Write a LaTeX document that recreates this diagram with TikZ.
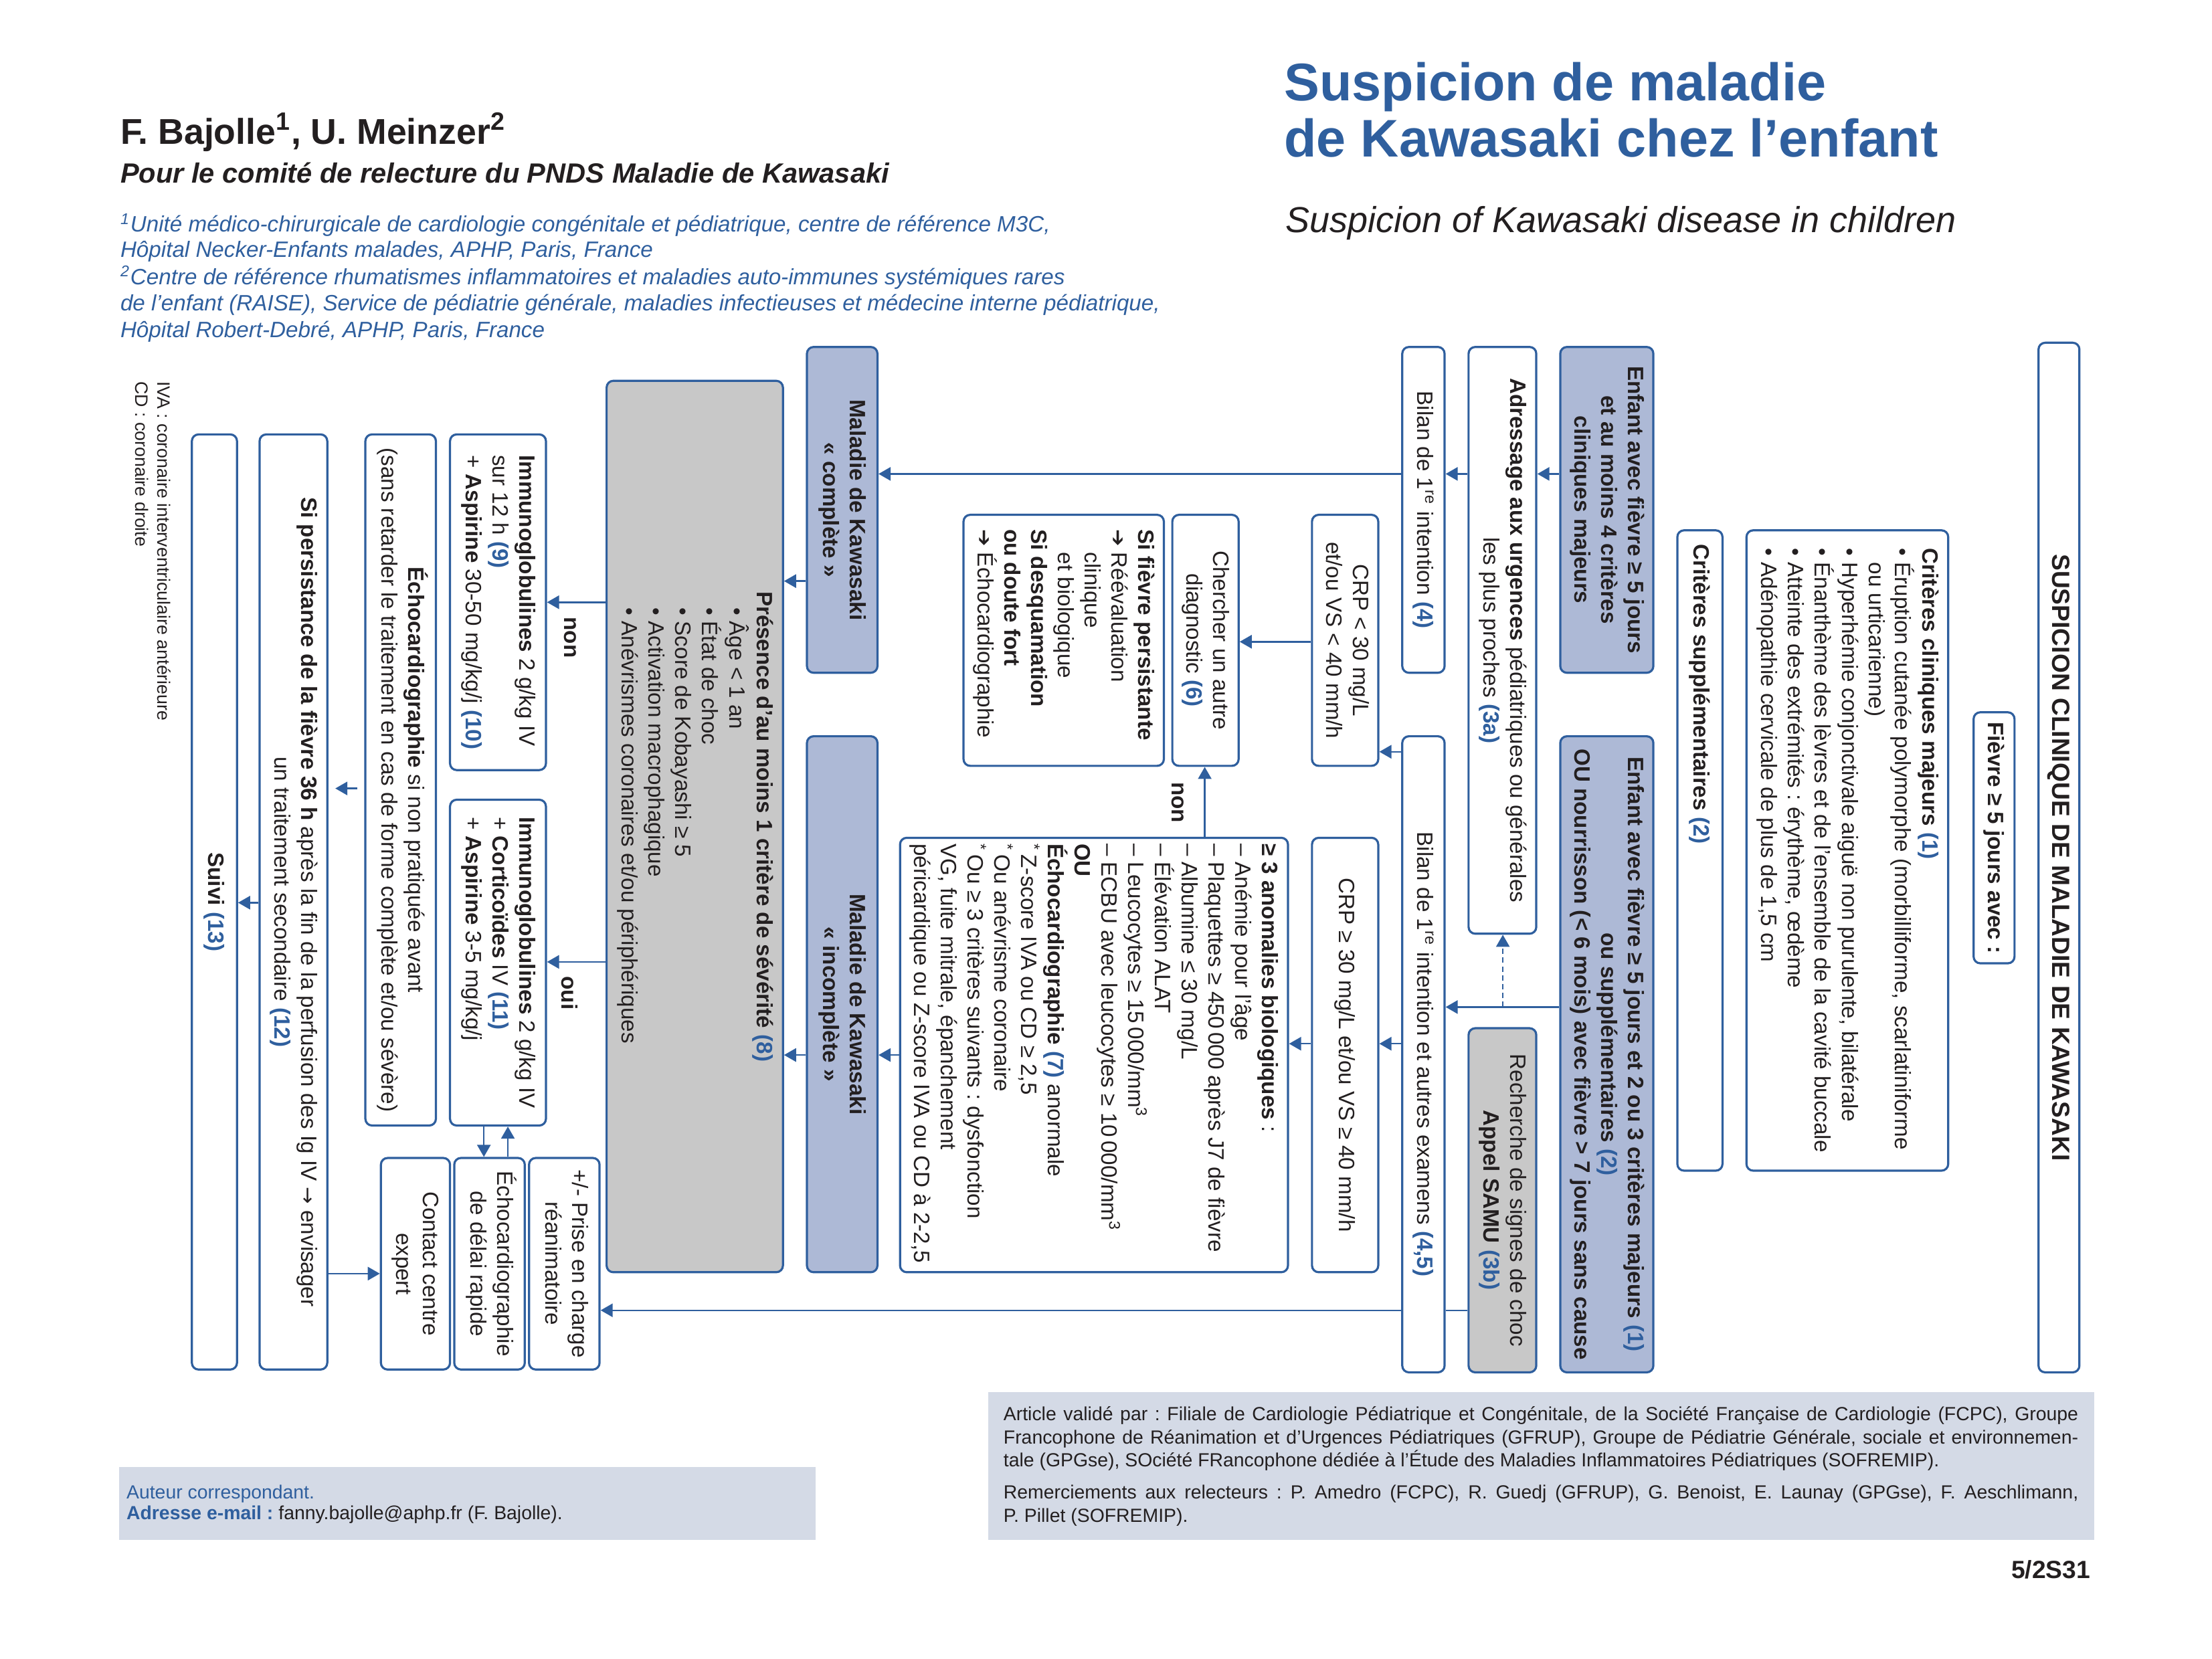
\documentclass[tikz,border=0pt]{standalone}
\usepackage{fontspec}
\setmainfont{Liberation Sans}
\newfontfamily\djv{DejaVu Sans}
\usepackage{graphicx}
\usetikzlibrary{arrows.meta}
\frenchspacing
\definecolor{kblue}{RGB}{47,95,158}
\definecolor{kfill}{RGB}{173,185,214}
\definecolor{kgrey}{RGB}{200,200,200}
\definecolor{kfoot}{RGB}{212,218,230}
\definecolor{ktext}{RGB}{35,31,32}
\newlength\ux
\setlength\ux{0.52711pt}
\newcommand\rf[1]{\textcolor{kblue}{\textbf{(#1)}}}
\newcommand\rot[1]{\rotatebox{-90}{#1}}
\newcommand\ctab[1]{\begin{tabular}{@{}c@{}}#1\end{tabular}}
\newcommand\ltab[1]{\begin{tabular}{@{}l@{}}#1\end{tabular}}
\newcommand\kmini[2]{\begin{minipage}{#1}\raggedright #2\end{minipage}}
\newcommand\harr{{\djv\fontsize{7.6}{10}\selectfont ➔}}
\newcommand\kbox[7]{\node[#2, minimum width={(#5-#3)*\ux}, minimum height={(#6-#4)*\ux}] (#1) at ({(#3+#5)/2},{(#4+#6)/2}) {#7};}
\begin{document}
\begin{tikzpicture}[x=0.52711pt, y=-0.52711pt,
  kb/.style={draw=kblue, line width=0.8pt, rounded corners=2.5pt, fill=white, inner sep=0pt, text=ktext, font=\fontsize{8.3}{10}\selectfont},
  kbf/.style={kb, fill=kfill},
  kbg/.style={kb, fill=kgrey},
  ar/.style={draw=kblue, line width=0.6pt, -{Triangle[length=4.5pt,width=5pt]}},
  ln/.style={draw=kblue, line width=0.6pt},
  lbl/.style={inner sep=0pt, text=ktext, font=\fontsize{8.3}{10}\selectfont\bfseries, rotate=-90},
  hd/.style={inner sep=0pt, anchor=base west, text=ktext}]
\useasboundingbox (0,0) rectangle (1568,1176);

% ---------- header ----------
\node[hd, font=\fontsize{19.8}{21}\selectfont\bfseries, text=kblue] (title1) at (910,71.5) {Suspicion de maladie};
\node[hd, font=\fontsize{19.8}{21}\selectfont\bfseries, text=kblue] (title2) at (910,111) {de Kawasaki chez l’enfant};
\node[hd, font=\fontsize{13.5}{15}\selectfont\itshape] (subtitle) at (911,165) {Suspicion of Kawasaki disease in children};
\node[hd, font=\fontsize{13.4}{15}\selectfont\bfseries] (auth) at (85,102) {F. Bajolle\textsuperscript{1}, U. Meinzer\textsuperscript{2}};
\node[hd, font=\fontsize{10.4}{12}\selectfont\bfseries\itshape] (comite) at (85,129.6) {Pour le comité de relecture du PNDS Maladie de Kawasaki};
\begin{scope}[every node/.style={hd, font=\fontsize{8.3}{10}\selectfont\itshape, text=kblue}]
\node (af1) at (85,164.4) {\textsuperscript{1}Unité médico-chirurgicale de cardiologie congénitale et pédiatrique, centre de référence M3C,};
\node (af2) at (85,182.6) {Hôpital Necker-Enfants malades, APHP, Paris, France};
\node (af3) at (85,201.6) {\textsuperscript{2}Centre de référence rhumatismes inflammatoires et maladies auto-immunes systémiques rares};
\node (af4) at (85,220.5) {de l’enfant (RAISE), Service de pédiatrie générale, maladies infectieuses et médecine interne pédiatrique,};
\node (af5) at (85,239.5) {Hôpital Robert-Debré, APHP, Paris, France};
\end{scope}

% ---------- boxes ----------
\kbox{b1}{kb, font=\fontsize{9.3}{11}\selectfont\bfseries}{1445}{243}{1474}{973}{\rot{SUSPICION CLINIQUE DE MALADIE DE KAWASAKI}}
\kbox{b2}{kb, font=\fontsize{8.3}{10}\selectfont\bfseries}{1399}{505}{1428}{683}{\rot{Fièvre ≥ 5 jours avec :}}
\kbox{b3}{kb}{1238}{376}{1381}{830}{\rot{\ltab{\textbf{Critères cliniques majeurs} \rf{1}\\
• Éruption cutanée polymorphe (morbilliforme, scarlatiniforme\\
\hphantom{• }ou urticarienne)\\
• Hyperhémie conjonctivale aiguë non purulente, bilatérale\\
• Énanthème des lèvres et de l’ensemble de la cavité buccale\\
• Atteinte des extrémités : érythème, œdème\\
• Adénopathie cervicale de plus de 1,5 cm}}}
\kbox{b4}{kb}{1189}{376}{1221}{830}{\rot{\kmini{229pt}{\textbf{Critères supplémentaires} \rf{2}}}}
\kbox{b5}{kbf, font=\fontsize{8.3}{10}\selectfont\bfseries}{1106}{246}{1172}{477}{\rot{\ctab{Enfant avec fièvre ≥ 5 jours\\et au moins 4 critères\\cliniques majeurs}}}
\kbox{b6}{kbf, font=\fontsize{8.3}{10}\selectfont\bfseries}{1106}{522}{1172}{973}{\rot{\ctab{Enfant avec fièvre ≥ 5 jours et 2 ou 3 critères majeurs \rf{1}\\ou supplémentaires \rf{2}\\OU nourrisson (< 6 mois) avec fièvre > 7 jours sans cause}}}
\kbox{b7}{kb}{1041}{246}{1089}{662}{\rot{\ctab{\textbf{Adressage aux urgences} pédiatriques ou générales\\les plus proches \rf{3a}}}}
\kbox{b8}{kbg}{1041}{729}{1089}{973}{\rot{\ctab{Recherche de signes de choc\\\textbf{Appel SAMU} \rf{3b}}}}
\kbox{b9}{kb}{994}{246}{1024}{477}{\rot{Bilan de 1\textsuperscript{re} intention \rf{4}}}
\kbox{b10}{kb}{994}{522}{1024}{973}{\rot{Bilan de 1\textsuperscript{re} intention et autres examens \rf{4,5}}}
\kbox{b11}{kb}{930}{365}{977}{543}{\rot{\ctab{CRP < 30 mg/L\\et/ou VS < 40 mm/h}}}
\kbox{b12}{kb}{930}{594}{977}{902}{\rot{CRP ≥ 30 mg/L et/ou VS ≥ 40 mm/h}}
\kbox{b13}{kb}{831}{365}{878}{543}{\rot{\ctab{Chercher un autre\\diagnostic \rf{6}}}}
\kbox{b14}{kb}{683}{365}{825}{543}{\rot{\kmini{83pt}{\textbf{Si fièvre persistante}\\
\harr\ Réévaluation\\
\hphantom{\harr\ }clinique\\
\hphantom{\harr\ }et biologique\\
\textbf{Si desquamation}\\
\textbf{ou doute fort}\\
\harr\ Échocardiographie}}}
\kbox{b15}{kb}{638}{594}{913}{902}{\rot{\kmini{158pt}{\textbf{≥ 3 anomalies biologiques} :\\
– Anémie pour l’âge\\
– Plaquettes ≥ 450\,000 après J7 de fièvre\\
– Albumine ≤ 30 mg/L\\
– Élévation ALAT\\
– Leucocytes ≥ 15\,000/mm\textsuperscript{3}\\
– ECBU avec leucocytes ≥ 10\,000/mm\textsuperscript{3}\\
\textbf{OU}\\
\textbf{Échocardiographie} \rf{7} anormale\\
\textsuperscript{*}\,Z-score IVA ou CD ≥ 2,5\\
\textsuperscript{*}\,Ou anévrisme coronaire\\
\textsuperscript{*}\,Ou ≥ 3 critères suivants : dysfonction\\
VG, fuite mitrale, épanchement\\
péricardique ou Z-score IVA ou CD à 2-2,5}}}
\kbox{b16}{kbf, font=\fontsize{8.3}{10}\selectfont\bfseries}{572}{246}{622}{477}{\rot{\ctab{Maladie de Kawasaki\\« complète »}}}
\kbox{b17}{kbf, font=\fontsize{8.3}{10}\selectfont\bfseries}{572}{522}{622}{902}{\rot{\ctab{Maladie de Kawasaki\\« incomplète »}}}
\kbox{b18}{kbg}{430}{270}{555}{902}{\rot{\ltab{\textbf{Présence d’au moins 1 critère de sévérité} \rf{8}\\
\hspace*{6pt}• Âge < 1 an\\
\hspace*{6pt}• État de choc\\
\hspace*{6pt}• Score de Kobayashi ≥ 5\\
\hspace*{6pt}• Activation macrophagique\\
\hspace*{6pt}• Anévrismes coronaires et/ou périphériques}}}
\kbox{b19}{kb}{319}{308}{387}{546}{\rot{\ltab{\textbf{Immunoglobulines} 2 g/kg IV\\
sur 12 h \rf{9}\\
+ \textbf{Aspirine} 30-50 mg/kg/j \rf{10}}}}
\kbox{b20}{kb}{319}{567}{387}{798}{\rot{\ltab{\textbf{Immunoglobulines} 2 g/kg IV\\
+ \textbf{Corticoïdes} IV \rf{11}\\
+ \textbf{Aspirine} 3-5 mg/kg/j}}}
\kbox{b21}{kb}{259}{308}{309}{798}{\rot{\ctab{\textbf{Échocardiographie} si non pratiquée avant\\(sans retarder le traitement en cas de forme complète et/ou sévère)}}}
\kbox{b22}{kb}{184}{308}{232}{971}{\rot{\ctab{\textbf{Si persistance de la fièvre 36 h} après la fin de la perfusion des Ig IV {\djv\fontsize{7.6}{10}\selectfont →} envisager\\un traitement secondaire \rf{12}}}}
\kbox{b23}{kb}{136}{308}{168}{971}{\rot{\textbf{Suivi} \rf{13}}}
\kbox{b24}{kb}{375}{821}{425}{971}{\rot{\ctab{+/- Prise en charge\\réanimatoire}}}
\kbox{b25}{kb}{322}{821}{372}{971}{\rot{\ctab{Échocardiographie\\de délai rapide}}}
\kbox{b26}{kb}{270}{821}{319}{971}{\rot{\ctab{Contact centre\\expert}}}
\node[inner sep=0pt, anchor=north, text=ktext, font=\fontsize{6.7}{8.4}\selectfont] (note) at (107,270) {\rot{\ltab{IVA : coronaire interventriculaire antérieure\\CD : coronaire droite}}};

% ---------- levels ----------
\coordinate (h336) at (0,336);
\coordinate (h714) at (0,714);
\coordinate (h533) at (0,533);
\coordinate (h740) at (0,740);
\coordinate (h929) at (0,929);
\coordinate (h455) at (0,455);
\coordinate (h748) at (0,748);
\coordinate (h412) at (0,412);
\coordinate (h427) at (0,427);
\coordinate (h682) at (0,682);
\coordinate (h559) at (0,559);
\coordinate (h640) at (0,640);
\coordinate (h903) at (0,903);
\coordinate (v854) at (854,0);
\coordinate (v343) at (343,0);
\coordinate (v360) at (360,0);
\coordinate (d1) at (1065.3,714);

% ---------- connectors ----------
\draw[ar] (b5.west |- h336) -- (b7.east |- h336);
\draw[ar] (b7.west |- h336) -- (b9.east |- h336);
\draw[ar] (b9.west |- h336) -- (b16.east |- h336);
\draw[ar] (b6.west |- h714) -- (b10.east |- h714);
\draw[ar, dash pattern=on 2pt off 1.3pt] (d1) -- (d1 |- b7.south);
\draw[ar] (b10.west |- h533) -- (b11.east |- h533);
\draw[ar] (b10.west |- h740) -- (b12.east |- h740);
\draw[ln] (b8.west |- h929) -- (b10.east |- h929);
\draw[ar] (b10.west |- h929) -- (b24.east |- h929);
\draw[ar] (b11.west |- h455) -- (b13.east |- h455);
\draw[ar] (b12.west |- h740) -- (b15.east |- h740);
\draw[ar] (b15.north -| v854) -- (b13.south -| v854);
\node[lbl] (non1) at (835,569) {non};
\draw[ar] (b15.west |- h748) -- (b17.east |- h748);
\draw[ar] (b16.west |- h412) -- (b18.east |- h412);
\draw[ar] (b17.west |- h748) -- (b18.east |- h748);
\draw[ar] (b18.west |- h427) -- (b19.east |- h427);
\node[lbl] (non2) at (404,452) {non};
\draw[ar] (b18.west |- h682) -- (b20.east |- h682);
\node[lbl] (oui) at (404,704) {oui};
\draw[ar] (b20.south -| v343) -- (b25.north -| v343);
\draw[ar] (b25.north -| v360) -- (b20.south -| v360);
\draw[ar, shorten <=2.6pt, shorten >=2.6pt] (b21.west |- h559) -- (b22.east |- h559);
\draw[ar] (b22.west |- h640) -- (b23.east |- h640);
\draw[ar] (b22.east |- h903) -- (b26.west |- h903);

% ---------- footer ----------
\node[fill=kfoot, inner sep=0pt, minimum width={(578-84)*\ux}, minimum height={(1091.6-1039.5)*\ux}, anchor=north west] (footL) at (84,1039.5) {};
\node[fill=kfoot, inner sep=0pt, minimum width={(1484-700)*\ux}, minimum height={(1091.6-986.5)*\ux}, anchor=north west] (footR) at (700,986.5) {};
\begin{scope}[every node/.style={hd, font=\fontsize{7.1}{9}\selectfont}]
\node[text=kblue] (fl1) at (89.3,1062.4) {Auteur correspondant.};
\node (fl2) at (89.3,1077.4) {\textcolor{kblue}{\textbf{Adresse e-mail :}} fanny.bajolle@aphp.fr (F. Bajolle).};
\node (fr1) at (711,1007) {\makebox[401.6pt][s]{Article validé par : Filiale de Cardiologie Pédiatrique et Congénitale, de la Société Française de Cardiologie (FCPC), Groupe}};
\node (fr2) at (711,1023.6) {\makebox[401.6pt][s]{Francophone de Réanimation et d’Urgences Pédiatriques (GFRUP), Groupe de Pédiatrie Générale, sociale et environnemen-}};
\node (fr3) at (711,1040) {tale (GPGse), SOciété FRancophone dédiée à l’Étude des Maladies Inflammatoires Pédiatriques (SOFREMIP).};
\node (fr4) at (711,1062.4) {\makebox[401.6pt][s]{Remerciements aux relecteurs : P. Amedro (FCPC), R. Guedj (GFRUP), G. Benoist, E. Launay (GPGse), F. Aeschlimann,}};
\node (fr5) at (711,1079) {P. Pillet (SOFREMIP).};
\end{scope}
\node[inner sep=0pt, anchor=base east, text=ktext, font=\fontsize{9.3}{11}\selectfont\bfseries] (page) at (1482,1119) {5/2S31};
\end{tikzpicture}
\end{document}
